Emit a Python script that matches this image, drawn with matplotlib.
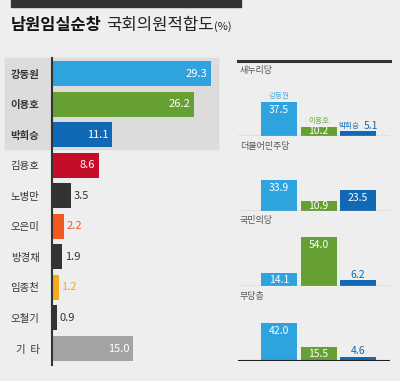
import matplotlib.pyplot as plt
from matplotlib.patches import Rectangle
from matplotlib.lines import Line2D

plt.rcParams['font.family'] = ['Noto Sans CJK KR', 'DejaVu Sans']

# 전체 적합도 (%)
names = ['강동원', '이용호', '박희승', '김용호', '노병만', '오은미', '방경채', '임종천', '오철기', '기  타']
values = [29.3, 26.2, 11.1, 8.6, 3.5, 2.2, 1.9, 1.2, 0.9, 15.0]
colors = ['#2fa3dd', '#66a032', '#1169b5', '#c50d2a', '#333333', '#f05a1e',
          '#333333', '#f5aa1e', '#333333', '#a3a3a3']

# 지지정당별 (%)
parties = ['새누리당', '더불어민주당', '국민의당', '무당층']
top3 = ['강동원', '이용호', '박희승']
top3_colors = ['#2fa3dd', '#66a032', '#1169b5']
by_party = [
    [37.5, 10.2, 5.1],
    [33.9, 10.9, 23.5],
    [14.1, 54.0, 6.2],
    [42.0, 15.5, 4.6],
]

W, H = 400, 381
BG = '#eeeeee'


def box(l, t, w, h):
    return [l / W, 1 - (t + h) / H, w / W, h / H]


fig = plt.figure(figsize=(W / 100, H / 100), dpi=100, facecolor=BG)

# 상단 검은 띠
fig.patches.append(Rectangle((11 / W, 1 - 7 / H), 230 / W, 7 / H,
                             transform=fig.transFigure, color='#333333', zorder=-1))

# 제목
t1 = fig.text(11 / W, 1 - 30 / H, '남원임실순창', fontsize=11.8, fontweight='bold',
              color='#111111', va='baseline')
fig.canvas.draw()
r = fig.canvas.get_renderer()
x = t1.get_window_extent(r).x1 + 4
t2 = fig.text(x / W, 1 - 30 / H, '국회의원적합도', fontsize=12, color='#222222', va='baseline')
x = t2.get_window_extent(r).x1 + 1
fig.text(x / W, 1 - 30 / H, '(%)', fontsize=8, color='#222222', va='baseline')

# 상위 3명 강조 박스
fig.patches.append(Rectangle((5 / W, 1 - 149 / H), 213 / W, 91 / H,
                             transform=fig.transFigure, color='#dcdcdc', zorder=-1))

# ---- 왼쪽 가로 막대 ----
ax = fig.add_axes(box(52, 58, 168, 307))
ax.set_facecolor('none')
ypos = list(range(len(names)))
ax.barh(ypos, values, height=0.82, color=colors)
ax.set_xlim(0, 168 / 5.43)
ax.set_ylim(9.54, -0.51)
for s in ['top', 'right', 'bottom']:
    ax.spines[s].set_visible(False)
ax.spines['left'].set_color('#333333')
ax.spines['left'].set_linewidth(1.5)
ax.set_xticks([])
ax.set_yticks(ypos)
ax.set_yticklabels(names, fontsize=7.5, color='#333333')
for i, lbl in enumerate(ax.get_yticklabels()):
    if i < 3:
        lbl.set_fontweight('bold')
ax.tick_params(axis='y', length=0, pad=9)

for i, v in enumerate(values):
    if v >= 5:
        ax.annotate(f'{v:.1f}', (v, i), xytext=(-3, 0), textcoords='offset points',
                    ha='right', va='center', color='white', fontsize=8)
    else:
        c = colors[i]
        ax.annotate(f'{v:.1f}', (v, i), xytext=(2, 0), textcoords='offset points',
                    ha='left', va='center', color=c, fontsize=8)

# ---- 오른쪽 지지정당별 ----
fig.lines.append(Line2D([238 / W, 390 / W], [1 - 61 / H, 1 - 61 / H],
                        transform=fig.transFigure, color='#333333', lw=2.2))

pxu = 0.91  # px per %
for k, (party, vals) in enumerate(zip(parties, by_party)):
    base = 136 + 75 * k
    a = fig.add_axes(box(238, base - 75, 152, 75))
    a.set_facecolor('none')
    a.axis('off')
    a.set_xlim(-1.04, 2.81)
    a.set_ylim(0, 75 / pxu)
    a.bar(range(3), vals, width=0.91, color=top3_colors, zorder=2)
    last = k == len(parties) - 1
    a.axhline(0, color='#222222' if last else '#aaaaaa', lw=1.5 if last else 1, zorder=3)
    a.text(2 / 152, 1 - 10 / 75, party, transform=a.transAxes, fontsize=6.5,
           color='#555555', va='center', ha='left')
    for j, v in enumerate(vals):
        hpx = v * pxu
        if v >= 8:
            off = min(8, hpx / 2)
            a.annotate(f'{v:.1f}', (j, v), xytext=(0, -off * 0.72), textcoords='offset points',
                       ha='center', va='center', color='white', fontsize=7.5, zorder=4)
            if k == 0:
                a.annotate(top3[j], (j, v), xytext=(0, 1.5), textcoords='offset points',
                           ha='center', va='bottom', color=top3_colors[j], fontsize=5.5,
                           alpha=0.85)
        else:
            if k == 0:
                a.annotate(top3[j], (j, v), xytext=(1, 1), textcoords='offset points',
                           ha='right', va='bottom', color=top3_colors[j], fontsize=5.5)
                a.annotate(f'{v:.1f}', (j, v), xytext=(4, 0.5), textcoords='offset points',
                           ha='left', va='bottom', color=top3_colors[j], fontsize=7.5)
            else:
                a.annotate(f'{v:.1f}', (j, v), xytext=(0, 0.5), textcoords='offset points',
                           ha='center', va='bottom', color=top3_colors[j], fontsize=7.5)

fig.savefig('out.png', dpi=100, facecolor=BG)
